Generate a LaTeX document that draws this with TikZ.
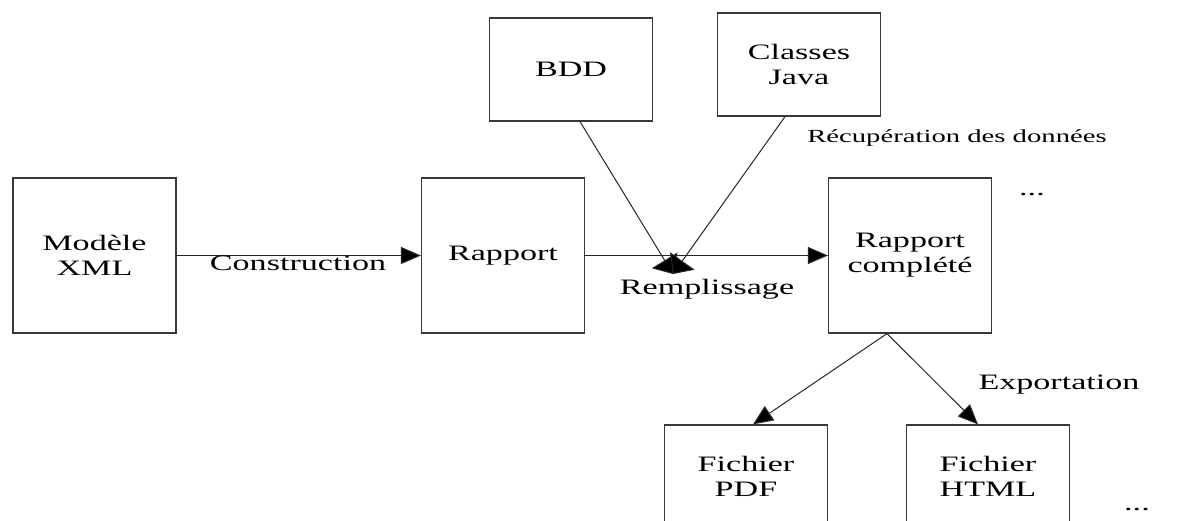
\documentclass[tikz,border=0pt]{standalone}
\usepackage{fontspec}
\setmainfont{Liberation Serif}[FakeStretch=1.55]
\usetikzlibrary{arrows.meta,calc}
\begin{document}
\begin{tikzpicture}[x=1pt,y=-1pt,
  box/.style={draw=black!78, line width=1.2pt, align=center, inner sep=0pt,
    minimum width=163pt, font=\fontsize{22}{25}\selectfont},
  tall/.style={box, minimum height=155pt},
  short/.style={box, minimum height=103pt},
  flow/.style={draw=black!85, line width=1pt, -{Triangle[length=20pt,width=17pt,fill=black]}},
  feed/.style={flow, -{Triangle[length=16pt,width=30pt,fill=black]}},
  lbl/.style={inner sep=0pt, font=\fontsize{22}{25}\selectfont},
  small/.style={inner sep=0pt, font=\fontsize{18.5}{21}\selectfont}]
\useasboundingbox (0,0) rectangle (1179,520);
\fill[white] (0,0) rectangle (1179,520);

% boxes
\node[tall]  (modele)   at (94.5,255.5) {Modèle\\XML};
\node[tall]  (rapport)  at (503,255.5)  {Rapport};
\node[short] (bdd)      at (571,69.5)   {BDD};
\node[short] (classes)  at (799,64.5)   {Classes\\Java};
\node[tall]  (complete) at (910,255.5)  {Rapport\\complété};
\node[short] (pdf)      at (746,476.5)  {Fichier\\PDF};
\node[short] (html)     at (988,476.5)  {Fichier\\HTML};

% construction and filling
\draw[flow] (modele.east) -- (rapport.west);
\draw[flow] (rapport.east) -- (complete.west);
\coordinate (merge) at (673,274);
\draw[feed] ($(bdd.south)+(9,0)$) -- (merge);
\draw[feed] ($(classes.south)+(-14,0)$) -- (merge);

% export
\coordinate (fork) at ($(complete.south)+(-23,0)$);
\draw[flow] (fork) -- ($(pdf.north)+(7,0)$);
\draw[flow] (fork) -- ($(html.north)+(-10,0)$);

% labels
\node[lbl]   (lconstr) at (298,263)  {Construction};
\node[lbl]   (lrempl)  at (707,289)  {Remplissage};
\node[small] (lrecup)  at (957,138)  {Récupération des données};
\node[lbl]   (lexport) at (1059,385) {Exportation};
\node[lbl]   (dots1)   at (1032,195) {...};
\node[lbl]   (dots2)   at (1137,510) {...};
\end{tikzpicture}
\end{document}
